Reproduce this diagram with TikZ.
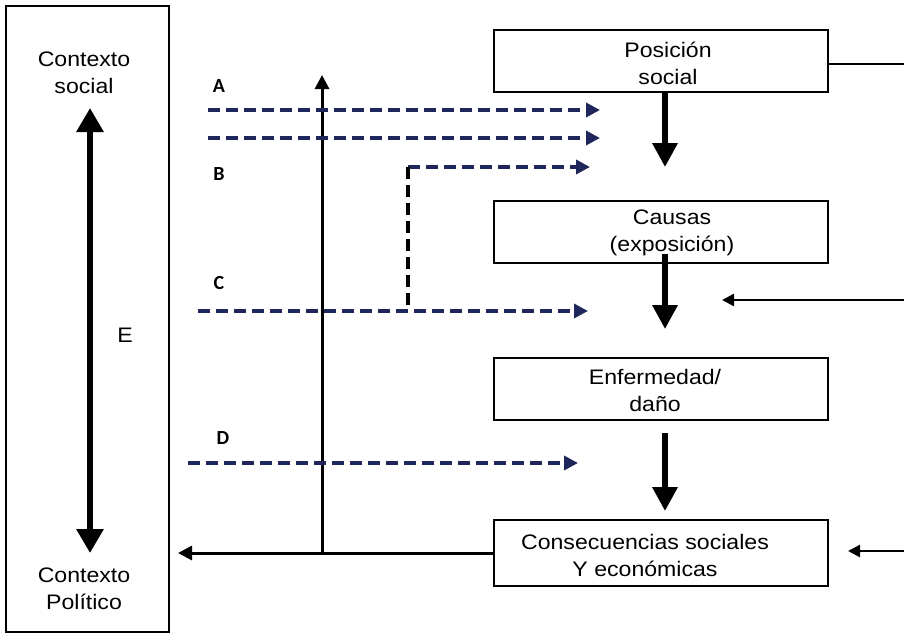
\documentclass[tikz,border=0pt]{standalone}
\usepackage{fontspec}
\setmainfont[FakeStretch=1.1]{Liberation Sans}
\newfontfamily\lettfont{Carlito}
\usetikzlibrary{arrows.meta}
\definecolor{navy}{RGB}{31,38,92}
\begin{document}
\begin{tikzpicture}[x=1pt,y=-1pt,
  every node/.style={font=\fontsize{21}{27}\selectfont, inner sep=0pt},
  stage/.style={draw, line width=2.2pt, minimum width=334pt, minimum height=62pt},
  caption/.style={align=center},
  letter/.style={font=\lettfont\bfseries\fontsize{20}{22}\selectfont},
  flow/.style={line width=6pt, -{Triangle[length=24pt,width=24pt]}},
  thinarrow/.style={line width=2.5pt, -{Triangle[length=12pt,width=12pt]}},
  linkarrow/.style={line width=3pt, -{Triangle[length=14pt,width=14pt]}},
  dashline/.style={line width=4.5pt, dash pattern=on 12pt off 6pt},
  pathway/.style={dashline, navy, -{Triangle[length=14pt,width=14pt]}},
]
\useasboundingbox (0,0) rectangle (904,635);

% context column
\node[draw, line width=2.5pt, minimum width=163pt, minimum height=626pt] (ctx) at (87.5,319) {};
\node[caption] (social) at (84,73) {Contexto\\social};
\node[caption] (politico) at (84,589) {Contexto\\Político};
\node (e) at (125,335) {E};
\coordinate (et) at (90,108);
\coordinate (eb) at (90,553);
\draw[line width=6pt, {Triangle[length=24pt,width=26pt]}-{Triangle[length=24pt,width=26pt]}] (et) -- (eb);

% main chain
\node[stage] (pos) at (661,61) {};
\node[stage] (cau) at (661,232) {};
\node[stage] (enf) at (661,389) {};
\node[stage, minimum height=66pt] (con) at (661,553) {};
\node[caption] (posT) at (668,63) {Posición\\social};
\node[caption] (cauT) at (672,233) {Causas\\(exposición)};
\node[caption] (enfT) at (655,390) {Enfermedad/\\daño};
\node[caption] (conT) at (645,555) {Consecuencias sociales\\Y económicas};

\draw[flow] ([xshift=4pt]pos.south) -- ++(0,74);
\draw[flow] ([xshift=4pt,yshift=10pt]cau.south) -- ++(0,75);
\draw[flow] ([xshift=4pt,yshift=-12pt]enf.south) -- ++(0,78);

% lines from the right edge
\coordinate (rpos) at (904,64);
\draw[line width=2.8pt] (pos.east |- rpos) -- (rpos);
\coordinate (rc) at (904,300);
\coordinate (rct) at (722,300);
\draw[thinarrow] (rc) -- (rct);
\coordinate (rn) at (904,551);
\coordinate (rnt) at (848,551);
\draw[thinarrow] (rn) -- (rnt);

% feedback to the context
\coordinate (fb) at (178,553);
\coordinate (j) at (322,553);
\coordinate (jt) at (322,75);
\draw[linkarrow] (con.west) -- (fb);
\draw[linkarrow] (j) -- (jt);

% entry points A-D
\node[letter] (la) at (219,86) {A};
\node[letter] (lb) at (219,174) {B};
\node[letter] (lc) at (219,283) {C};
\node[letter] (ld) at (223,438) {D};

\coordinate (a1s) at (208,110); \coordinate (a1e) at (600,110);
\coordinate (a2s) at (208,138); \coordinate (a2e) at (600,138);
\coordinate (bs) at (408,167);  \coordinate (be) at (590,167);
\coordinate (bb) at (408,305);
\coordinate (cs) at (198,311);  \coordinate (ce) at (588,311);
\coordinate (ds) at (188,463);  \coordinate (de) at (578,463);

\draw[pathway] (a1s) -- (a1e);
\draw[pathway] (a2s) -- (a2e);
\draw[pathway] (bs) -- (be);
\draw[dashline] (bb) -- (bs);
\draw[pathway] (cs) -- (ce);
\draw[pathway] (ds) -- (de);
\end{tikzpicture}
\end{document}
